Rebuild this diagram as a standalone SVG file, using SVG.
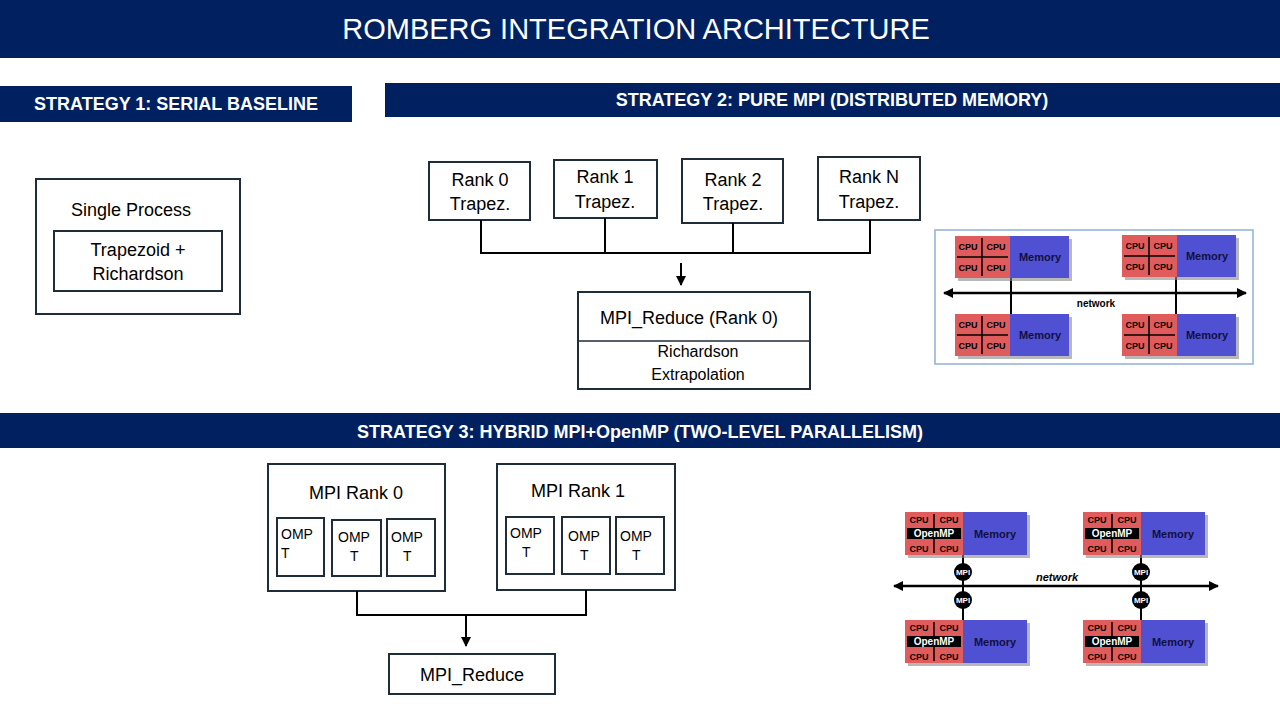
<svg xmlns="http://www.w3.org/2000/svg" xmlns:xlink="http://www.w3.org/1999/xlink" width="1280" height="720" viewBox="0 0 1280 720">
<style>
text{font-family:"Liberation Sans",Arial,sans-serif;fill:#000}
.bar{fill:#002060}
.bt{fill:#fff;font-weight:bold;font-size:18px;text-anchor:middle}
.box{fill:#fff;stroke:#1f2d3a;stroke-width:2}
.t18{font-size:18px;text-anchor:middle}
.t16{font-size:16px;text-anchor:middle}
.omp{font-size:14px}
.con{fill:none;stroke:#000;stroke-width:2}
.red{fill:#e05c5c}.blue{fill:#5050d2}.sh{fill:#888;opacity:.6}
.cpu{font-size:9px;font-weight:bold;text-anchor:middle}
.mem{font-size:11px;font-weight:bold;text-anchor:middle;fill:#101040}
.gl{stroke:#000;stroke-width:1.5}
</style>
<defs>
<marker id="ah" viewBox="0 0 10 10" refX="9" refY="5" markerWidth="5" markerHeight="5" orient="auto"><path d="M0,0L10,5L0,10z" fill="#000"/></marker>
<marker id="nh" viewBox="0 0 10 10" refX="9" refY="5" markerWidth="4" markerHeight="4" orient="auto-start-reverse"><path d="M0,0L10,5L0,10z" fill="#000"/></marker>
<g id="m1">
<rect class="sh" x="3" y="3" width="114" height="42"/>
<rect class="red" x="0" y="0" width="55" height="42"/>
<rect class="blue" x="55" y="0" width="59" height="42"/>
<line class="gl" x1="27" y1="2" x2="27" y2="40" stroke-width="1"/>
<line class="gl" x1="2" y1="21" x2="53" y2="21" stroke-width="1"/>
<text class="cpu" x="13" y="14">CPU</text><text class="cpu" x="41" y="14">CPU</text>
<text class="cpu" x="13" y="35">CPU</text><text class="cpu" x="41" y="35">CPU</text>
<text class="mem" x="85" y="25">Memory</text>
</g>
<g id="m2">
<rect class="sh" x="3" y="3" width="122" height="43"/>
<rect class="red" x="0" y="0" width="58" height="43"/>
<rect class="blue" x="58" y="0" width="64" height="43"/>
<line class="gl" x1="29" y1="2" x2="29" y2="41" stroke-width="1"/>
<rect x="2" y="16" width="54" height="11" fill="#000"/>
<text class="cpu" x="14" y="11">CPU</text><text class="cpu" x="44" y="11">CPU</text>
<text class="cpu" x="14" y="40">CPU</text><text class="cpu" x="44" y="40">CPU</text>
<text class="cpu" x="29" y="25" style="fill:#fff;font-size:10px">OpenMP</text>
<text class="mem" x="90" y="26">Memory</text>
</g>
<g id="mpi"><circle r="9" fill="#000"/><text class="cpu" y="3" style="fill:#fff;font-size:8px">MPI</text></g>
</defs>
<rect width="1280" height="720" fill="#fff"/>
<g id="title"><rect class="bar" x="0" y="0" width="1280" height="58"/>
<text x="636" y="39" style="fill:#fff;font-size:29px;text-anchor:middle">ROMBERG INTEGRATION ARCHITECTURE</text></g>
<g id="s1bar"><rect class="bar" x="0" y="86" width="352" height="36"/><text class="bt" x="176" y="110">STRATEGY 1: SERIAL BASELINE</text></g>
<g id="s2bar"><rect class="bar" x="385" y="83" width="895" height="34"/><text class="bt" x="832" y="106">STRATEGY 2: PURE MPI (DISTRIBUTED MEMORY)</text></g>
<g id="s3bar"><rect class="bar" x="0" y="413" width="1280" height="35"/><text class="bt" x="640" y="438">STRATEGY 3: HYBRID MPI+OpenMP (TWO-LEVEL PARALLELISM)</text></g>

<g id="single"><rect class="box" x="36" y="179" width="204" height="135"/>
<text class="t18" x="131" y="216">Single Process</text>
<rect class="box" x="54" y="231" width="168" height="60"/>
<text class="t18" x="138" y="256">Trapezoid +</text><text class="t18" x="138" y="280">Richardson</text></g>

<g id="rank0"><rect class="box" x="429" y="162" width="101" height="58"/><text class="t18" x="480" y="186">Rank 0</text><text class="t18" x="480" y="210">Trapez.</text></g>
<g id="rank1"><rect class="box" x="554" y="160" width="103" height="58"/><text class="t18" x="605" y="183">Rank 1</text><text class="t18" x="605" y="208">Trapez.</text></g>
<g id="rank2"><rect class="box" x="682" y="159" width="101" height="64"/><text class="t18" x="733" y="186">Rank 2</text><text class="t18" x="733" y="210">Trapez.</text></g>
<g id="rankN"><rect class="box" x="818" y="157" width="102" height="63"/><text class="t18" x="869" y="183">Rank N</text><text class="t18" x="869" y="208">Trapez.</text></g>
<g id="reduce1"><rect class="box" x="578" y="292" width="232" height="97"/><line x1="578" y1="341" x2="810" y2="341" stroke="#1f2d3a" stroke-width="1.5"/>
<text class="t18" x="689" y="324">MPI_Reduce (Rank 0)</text>
<text class="t16" x="698" y="357">Richardson</text><text class="t16" x="698" y="380">Extrapolation</text></g>

<g id="rank0h"><rect class="box" x="268" y="464" width="177" height="127"/><text class="t18" x="356" y="499">MPI Rank 0</text>
<rect class="box" x="277" y="518" width="47" height="58"/><text class="omp" x="281" y="539">OMP</text><text class="omp" x="281" y="558">T</text>
<rect class="box" x="332" y="520" width="49" height="56"/><text class="omp" x="338" y="542">OMP</text><text class="omp" x="350" y="561">T</text>
<rect class="box" x="387" y="519" width="48" height="57"/><text class="omp" x="391" y="542">OMP</text><text class="omp" x="403" y="561">T</text></g>
<g id="rank1h"><rect class="box" x="497" y="464" width="178" height="126"/><text class="t18" x="578" y="497">MPI Rank 1</text>
<rect class="box" x="506" y="517" width="48" height="57"/><text class="omp" x="510" y="538">OMP</text><text class="omp" x="522" y="557">T</text>
<rect class="box" x="562" y="517" width="48" height="57"/><text class="omp" x="568" y="541">OMP</text><text class="omp" x="580" y="560">T</text>
<rect class="box" x="616" y="517" width="48" height="57"/><text class="omp" x="620" y="541">OMP</text><text class="omp" x="632" y="560">T</text></g>
<g id="reduce2"><rect class="box" x="389" y="654" width="166" height="40"/><text class="t18" x="472" y="681">MPI_Reduce</text></g>

<g id="connectors">
<path class="con" d="M481,220V253M605,218V253M733,223V253M870,220V253M480,253H871"/>
<line class="con" x1="681" y1="263" x2="681" y2="285" stroke-width="1.5" marker-end="url(#ah)"/>
<path class="con" d="M357,591V615M586,590V615M356,615H587"/>
<line class="con" x1="466" y1="615" x2="466" y2="646" stroke-width="1.5" marker-end="url(#ah)"/>
</g>

<g id="img1">
<rect x="935" y="230" width="318" height="134" fill="#fff" stroke="#8fb0d8" stroke-width="1.5"/>
<line x1="944" y1="293" x2="1246" y2="293" stroke="#000" stroke-width="2.5" marker-start="url(#nh)" marker-end="url(#nh)"/>
<line x1="1011" y1="278" x2="1011" y2="314" stroke="#000" stroke-width="2"/>
<line x1="1176" y1="277" x2="1176" y2="314" stroke="#000" stroke-width="2"/>
<use xlink:href="#m1" x="955" y="236"/><use xlink:href="#m1" x="1122" y="235"/>
<use xlink:href="#m1" x="955" y="314"/><use xlink:href="#m1" x="1122" y="314"/>
<text x="1096" y="307" style="font-size:10px;font-weight:bold;text-anchor:middle">network</text>
</g>
<g id="img2">
<line x1="894" y1="586" x2="1218" y2="586" stroke="#000" stroke-width="2.5" marker-start="url(#nh)" marker-end="url(#nh)"/>
<line x1="963" y1="555" x2="963" y2="620" stroke="#000" stroke-width="2"/>
<line x1="1141" y1="555" x2="1141" y2="620" stroke="#000" stroke-width="2"/>
<use xlink:href="#m2" x="905" y="512"/><use xlink:href="#m2" x="1083" y="512"/>
<use xlink:href="#m2" x="905" y="620"/><use xlink:href="#m2" x="1083" y="620"/>
<use xlink:href="#mpi" x="963" y="572"/><use xlink:href="#mpi" x="963" y="600"/>
<use xlink:href="#mpi" x="1141" y="572"/><use xlink:href="#mpi" x="1141" y="600"/>
<text x="1057" y="581" style="font-size:11px;font-style:italic;font-weight:bold;text-anchor:middle">network</text>
</g>
</svg>
